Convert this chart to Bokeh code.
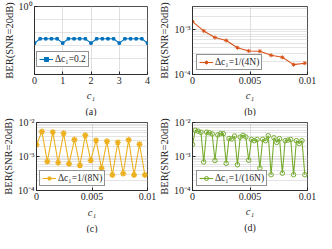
from bokeh.plotting import figure
from bokeh.layouts import column, row
from bokeh.models import FixedTicker, Legend, LegendItem, Title, Range1d
from bokeh.embed import file_html
from bokeh.resources import INLINE

# ---------------- data ----------------
N = 256
a_step = 0.2
a_y = [0.718, 0.751, 0.751, 0.751, 0.751, 0.718, 0.751, 0.751, 0.751, 0.751,
       0.718, 0.751, 0.751, 0.751, 0.751, 0.718, 0.751, 0.751, 0.751, 0.751, 0.718]

b_step = 1 / (4 * N)
b_y = [1.52e-3, 9.4e-4, 6.7e-4, 5.75e-4, 3.96e-4, 3.36e-4, 3.31e-4, 2.68e-4,
       2.42e-4, 1.66e-4, 1.79e-4]

c_step = 1 / (8 * N)
c_y = [2.21e-3, 5.4e-3, 7.1e-4, 5.2e-3, 6.6e-4, 4.8e-3, 6.1e-4, 3.16e-3, 5.5e-4,
       4.2e-3, 7.7e-4, 2.98e-3, 4.5e-4, 2.8e-3, 2.86e-4, 2.6e-3, 3.16e-4, 3.1e-3,
       2.86e-4, 2.3e-3, 2.86e-4]

d_step = 1 / (16 * N)
d_y = [2.27e-3, 5.9e-3, 5.57e-3, 5.15e-3, 6.9e-4, 5.2e-3, 5.0e-3, 4.6e-3, 7.6e-4,
       4.3e-3, 4.7e-3, 4.7e-3, 6.3e-4, 3.4e-3, 3.3e-3, 4.0e-3, 5.7e-4, 3.7e-3,
       4.2e-3, 3.75e-3, 7.76e-4, 3.16e-3, 2.92e-3, 3.16e-3, 4.58e-4, 3.22e-3,
       2.92e-3, 4.07e-3, 2.92e-4, 3.55e-3, 2.6e-3, 3.35e-3, 3.22e-4, 2.92e-3,
       3.04e-3, 3.16e-3, 2.92e-4, 2.92e-3, 2.41e-3, 2.92e-3, 2.92e-4]

a_x = [i * a_step for i in range(len(a_y))]
b_x = [i * b_step for i in range(len(b_y))]
c_x = [i * c_step for i in range(len(c_y))]
d_x = [i * d_step for i in range(len(d_y))]

labels = ["\u0394c\u2081=0.2", "\u0394c\u2081=1/(4N)", "\u0394c\u2081=1/(8N)", "\u0394c\u2081=1/(16N)"]
captions = ["(a)", "(b)", "(c)", "(d)"]
colors = ["#0072BD", "#D95319", "#EDB120", "#77AC30"]

a_xticks = [0, 1, 2, 3, 4]
a_xlabels = ["0", "1", "2", "3", "4"]
s_xticks = [0, 0.005, 0.01]
s_xlabels = ["0", "0.005", "0.01"]
a_yticks = [1.0]
a_ylabels = ["10\u2070"]
a_yminor = [0.6, 0.7, 0.8, 0.9]
log_yticks = [1e-4, 1e-3, 1e-2]
log_ylabels = ["10\u207b\u2074", "10\u207b\u00b3", "10\u207b\u00b2"]
log_yminor = [k * 1e-4 for k in range(2, 10)] + [k * 1e-3 for k in range(2, 10)]

FONT = "Liberation Serif"
TXT = "#262626"


def panel(x, y, color, marker, msize, mlw, mfill, label, caption, xr, yr, ylog,
          xt, xl, yt, yl, yminor, w, h, bl, br, bt, bb, leg_loc, cap_standoff, xstand):
    p = figure(width=w, height=h, x_range=Range1d(*xr), y_range=Range1d(*yr),
               y_axis_type="log" if ylog else "linear", output_backend="svg",
               toolbar_location=None, min_border_left=bl, min_border_right=br,
               min_border_top=bt, min_border_bottom=bb)
    p.background_fill_color = "white"
    p.border_fill_color = "white"
    p.outline_line_color = TXT
    p.outline_line_width = 0.8

    p.xaxis.ticker = FixedTicker(ticks=xt)
    p.xaxis.major_label_overrides = {t: s for t, s in zip(xt, xl)}
    p.yaxis.ticker = FixedTicker(ticks=yt, minor_ticks=yminor)
    p.yaxis.major_label_overrides = {t: s for t, s in zip(yt, yl)}
    p.xaxis.axis_label = "c\u2081"
    p.xaxis.axis_label_text_font_style = "italic"
    p.yaxis.axis_label = "BER(SNR=20dB)"
    p.yaxis.axis_label_text_font_style = "normal"
    for ax in (p.xaxis[0], p.yaxis[0]):
        ax.major_label_text_font = FONT
        ax.major_label_text_font_size = "10px"
        ax.major_label_text_color = TXT
        ax.axis_label_text_font = FONT
        ax.axis_label_text_font_size = "10.5px"
        ax.axis_label_text_color = TXT
        ax.axis_line_color = TXT
        ax.axis_line_width = 0.8
        ax.major_tick_line_color = TXT
        ax.major_tick_in = 3
        ax.major_tick_out = 0
        ax.minor_tick_in = 0
        ax.minor_tick_out = 0
        ax.major_label_standoff = 2
    p.xaxis.axis_label_standoff = xstand
    p.yaxis.axis_label_standoff = 1

    p.xgrid.grid_line_color = "#dfdfdf"
    p.ygrid.grid_line_color = "#dfdfdf"
    p.ygrid.minor_grid_line_color = "#c8c8c8"
    p.ygrid.minor_grid_line_dash = "1 1"

    r1 = p.line(x, y, line_color=color, line_width=1.1)
    r2 = p.scatter(x, y, marker=marker, size=msize, line_color=color,
                   fill_color=color if mfill else None, line_width=mlw)

    leg = Legend(items=[LegendItem(label=label, renderers=[r1, r2])], location=leg_loc)
    leg.label_text_font = FONT
    leg.label_text_font_size = "9.5px"
    leg.label_text_color = TXT
    leg.label_height = 10
    leg.glyph_height = 10
    leg.glyph_width = 14
    leg.label_standoff = 2
    leg.padding = 2
    leg.margin = 0
    leg.spacing = 0
    leg.border_line_color = TXT
    leg.border_line_width = 0.8
    leg.background_fill_alpha = 1
    p.add_layout(leg)

    cap = Title(text=caption, align="center", text_font=FONT, text_font_size="10px",
                text_font_style="normal", text_color=TXT, standoff=cap_standoff, offset=0)
    p.add_layout(cap, "below")
    return p


pa = panel(a_x, a_y, colors[0], "square", 2.5, 1, True, labels[0], captions[0],
           (0, 4), (0.476, 1.0), False, a_xticks, a_xlabels, a_yticks, a_ylabels, a_yminor,
           156, 116, 29, 9, 6, 34, leg_loc=(2, 7), cap_standoff=0, xstand=3)
pb = panel(b_x, b_y, colors[1], "asterisk", 4, 1, False, labels[1], captions[1],
           (0, 0.01), (1e-4, 3.3e-3), True, s_xticks, s_xlabels, log_yticks[:2], log_ylabels[:2],
           log_yminor, 160, 116, 33, 9, 4, 40, leg_loc=(4, 4), cap_standoff=0, xstand=3)
pc = panel(c_x, c_y, colors[2], "asterisk", 6, 1.4, False, labels[2], captions[2],
           (0, 0.01), (1e-4, 1e-2), True, s_xticks, s_xlabels, log_yticks, log_ylabels,
           log_yminor, 156, 117, 29, 9, 6, 40, leg_loc=(3, 4), cap_standoff=0, xstand=4)
pd = panel(d_x, d_y, colors[3], "circle", 4.5, 1, False, labels[3], captions[3],
           (0, 0.01), (1e-4, 1e-2), True, s_xticks, s_xlabels, log_yticks, log_ylabels,
           log_yminor, 160, 117, 33, 9, 6, 38, leg_loc=(4, 4), cap_standoff=0, xstand=3)

layout = column(row(pa, pb), row(pc, pd))
open("out.html", "w").write(file_html(layout, INLINE))
